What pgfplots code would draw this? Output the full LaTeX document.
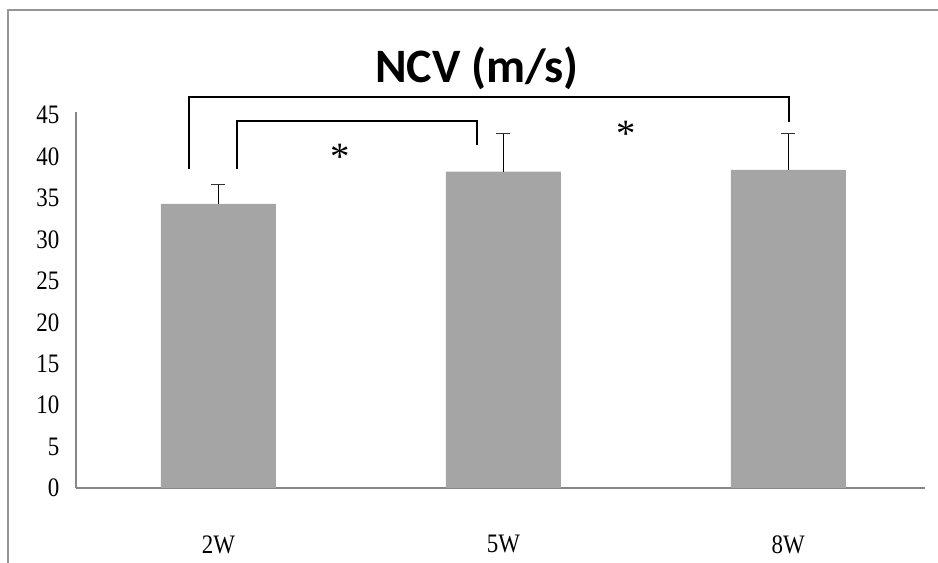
\documentclass[border=0pt]{standalone}
\usepackage{pgfplots}
\pgfplotsset{compat=1.18}
\usepackage{fontspec}
\setmainfont{Liberation Serif}
\newfontfamily\titlefont{Carlito}
\newfontfamily\tickfont[FakeStretch=0.86]{Liberation Serif}
\definecolor{barc}{RGB}{165,165,165}
\definecolor{axc}{RGB}{134,134,134}
\definecolor{frc}{RGB}{150,150,150}
\pgfplotstableread{
x y e
0 34.3 2.4
1 38.2 4.55
2 38.4 4.35
}\ncv
\begin{document}
\begin{tikzpicture}
\useasboundingbox (0pt,0pt) rectangle (703.5pt,422.25pt);
\draw[frc, line width=1.2pt] (6pt,0pt) -- (6pt,414.75pt) -- (703.5pt,414.75pt);
\begin{axis}[
  at={(57pt,56.25pt)}, anchor=south west,
  scale only axis, width=636.75pt, height=282pt,
  xmin=-0.5, xmax=2.48, ymin=0, ymax=45.4,
  axis lines*=left,
  axis line style={axc, line width=0.8pt},
  major tick length=0pt,
  xtick={0,1,2}, xticklabels={2W,5W,8W},
  ytick={0,5,...,45},
  /pgf/number format/assume math mode=true,
  ticklabel style={font=\tickfont\fontsize{20}{23}\selectfont},
  yticklabel style={xshift=-9pt},
  xticklabel style={yshift=-32pt},
  clip=false,
]
\addplot[ybar, bar width=86.25pt, fill=barc, draw=none,
  error bars/.cd, y dir=plus, y explicit,
  error bar style={black, line width=0.75pt},
  error mark options={black!80, mark size=5.25pt, line width=0.75pt, rotate=90}]
  table[x=x, y=y, y error=e] {\ncv};
\addplot[black, line width=1.5pt, mark=none] coordinates {(-0.103,38.5) (-0.103,47.2) (2.003,47.2) (2.003,44.2)};
\addplot[black, line width=1.5pt, mark=none] coordinates {(0.065,38.5) (0.065,44.3) (0.907,44.3) (0.907,41.4)};
\node at (axis cs:0.427,40.0) {\fontsize{29}{29}\selectfont *};
\node at (axis cs:1.43,42.8) {\fontsize{29}{29}\selectfont *};
\end{axis}
\node[font=\titlefont\bfseries\fontsize{36}{40}\selectfont] at (357.75pt,371.25pt) {NCV (m/s)};
\end{tikzpicture}
\end{document}
